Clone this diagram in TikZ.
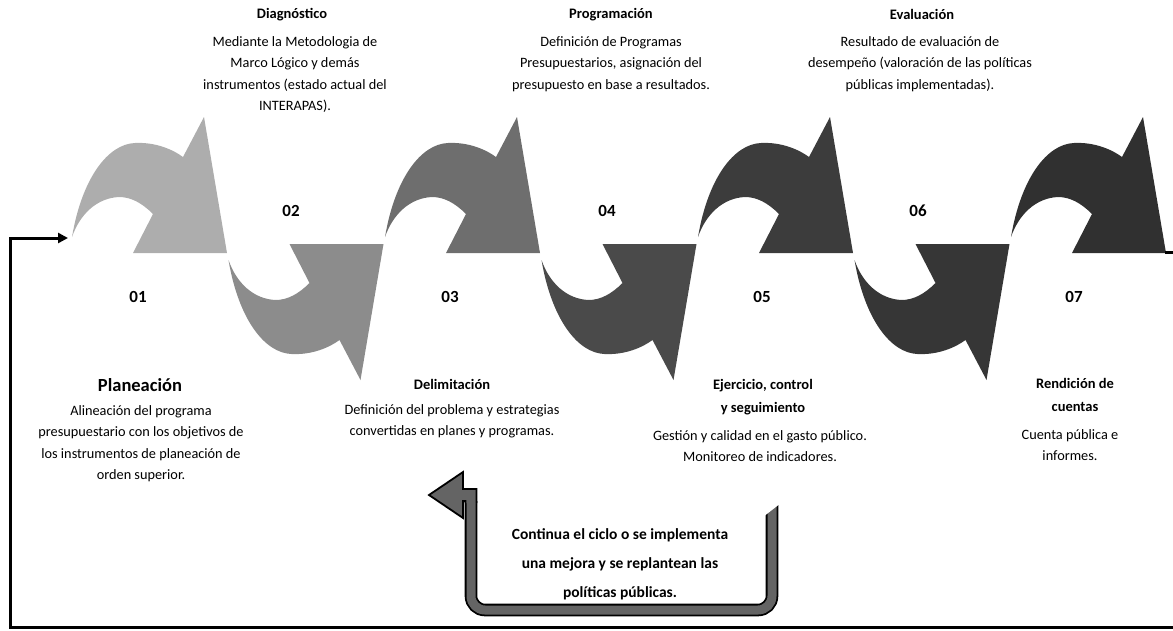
\documentclass[tikz,border=0pt]{standalone}
\usepackage{fontspec}
\setmainfont{Carlito}
\usetikzlibrary{arrows.meta}
\definecolor{gA}{HTML}{ADADAD}
\definecolor{gB}{HTML}{8C8C8C}
\definecolor{gC}{HTML}{6E6E6E}
\definecolor{gD}{HTML}{4A4A4A}
\definecolor{gE}{HTML}{3C3C3C}
\definecolor{gF}{HTML}{363636}
\definecolor{gG}{HTML}{303030}
\definecolor{gU}{HTML}{646464}
\tikzset{
  cyclearrow/.pic={
    \path[pic actions] (72,237) .. controls (82,178) and (108,144) .. (135,143)
      .. controls (155,142) and (172,149) .. (183,157)
      -- (204,117) -- (227,253) -- (133,253) -- (153,214)
      .. controls (142,203) and (131,197) .. (119,197)
      .. controls (97,198) and (80,214) .. (72,237) -- cycle;
  },
  titlebox/.style={font=\bfseries\fontsize{14.5}{23}\selectfont, inner sep=0pt, align=center},
  bigtitle/.style={font=\bfseries\fontsize{18.5}{22}\selectfont, inner sep=0pt},
  bodybox/.style={font=\fontsize{14.3}{21.6}\selectfont, align=center, inner sep=0pt, anchor=north},
  numbox/.style={font=\bfseries\fontsize{17}{20}\selectfont, inner sep=0pt},
  notebox/.style={font=\bfseries\fontsize{15.5}{29}\selectfont, align=center, inner sep=0pt, anchor=north},
  fbline/.style={line width=3pt, -{Triangle[length=10pt,width=10pt]}},
  ushaft/.style={double=gU, double distance=9pt, line width=1.8pt, rounded corners=14pt},
}
\begin{document}
\begin{tikzpicture}[x=1pt,y=-1pt]
\useasboundingbox (0,0) rectangle (1173,630);
% cycle arrows
\pic[fill=gA] at (0,0) {cyclearrow};
\pic[fill=gB, yscale=-1] at (156.5,497) {cyclearrow};
\pic[fill=gC] at (313,0) {cyclearrow};
\pic[fill=gD, yscale=-1] at (469.5,497) {cyclearrow};
\pic[fill=gE] at (626,0) {cyclearrow};
\pic[fill=gF, yscale=-1] at (782.5,497) {cyclearrow};
\pic[fill=gG] at (939,0) {cyclearrow};
% numbers
\node[numbox] (n1) at (138,297) {01};
\node[numbox] (n2) at (291,211) {02};
\node[numbox] (n3) at (450,297) {03};
\node[numbox] (n4) at (607,211) {04};
\node[numbox] (n5) at (762,297) {05};
\node[numbox] (n6) at (918,211) {06};
\node[numbox] (n7) at (1074,297) {07};
% top texts
\node[titlebox] (t2) at (292,15) {Diagnóstico};
\node[bodybox] (b2) at (295,36) {Mediante la Metodologia de\\Marco Lógico y demás\\instrumentos (estado actual del\\INTERAPAS).};
\node[titlebox] (t4) at (611,15) {Programación};
\node[bodybox] (b4) at (611,36) {Definición de Programas\\Presupuestarios, asignación del\\presupuesto en base a resultados.};
\node[titlebox] (t6) at (922,14) {Evaluación};
\node[bodybox] (b6) at (920,36) {Resultado de evaluación de\\desempeño (valoración de las políticas\\públicas implementadas).};
% bottom texts
\node[bigtitle] (t1) at (140,385) {Planeación};
\node[bodybox] (b1) at (141,405) {Alineación del programa\\presupuestario con los objetivos de\\los instrumentos de planeación de\\orden superior.};
\node[titlebox] (t3) at (452,384) {Delimitación};
\node[bodybox] (b3) at (452,404) {Definición del problema y estrategias\\convertidas en planes y programas.};
\node[titlebox, anchor=north] (t5) at (763,379) {Ejercicio, control\\y seguimiento};
\node[bodybox] (b5) at (760,430) {Gestión y calidad en el gasto público.\\Monitoreo de indicadores.};
\node[titlebox, anchor=north] (t7) at (1075,378) {Rendición de\\cuentas};
\node[bodybox] (b7) at (1070,429) {Cuenta pública e\\informes.};
% feedback U-turn arrow
\draw[ushaft] (772,505) -- (772,610) -- (471,610) -- (471,501);
\fill[white] (763,517) -- (763,503) -- (781,503) -- cycle;
\fill[gU] (465.5,503) -- (465.5,501) -- (463,501) -- (463,518) -- (429,495) -- (463,472) -- (463,489) -- (476.5,489) -- (476.5,503) -- cycle;
\draw[line width=1.8pt, line join=miter] (465.5,503) -- (465.5,501) -- (463,501) -- (463,518) -- (429,495) -- (463,472) -- (463,489) -- (476.5,489) -- (476.5,503);
\node[notebox] (note) at (620,528) {Continua el ciclo o se implementa\\una mejora y se replantean las\\políticas públicas.};
% outer return connector
\coordinate (fbA) at (1165,252);
\coordinate (fbB) at (68,238);
\draw[fbline] (fbA) -- (1190,252) -- (1190,627) -- (10,627) -- (10,238) -- (fbB);
\end{tikzpicture}
\end{document}
